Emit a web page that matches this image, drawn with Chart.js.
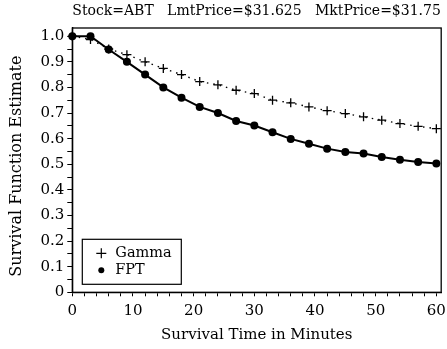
<!DOCTYPE html>
<html>
<head>
<meta charset="utf-8">
<script src="https://cdn.jsdelivr.net/npm/chart.js@4.4.1/dist/chart.umd.min.js"></script>
<style>
  html, body { margin: 0; padding: 0; background: #fff; }
  #wrap { width: 447px; height: 349px; }
</style>
</head>
<body>
<div id="wrap"><canvas id="surv" width="447" height="349"></canvas></div>
<script>
// survival estimates, sampled every 3 minutes
var minutes = [0, 3, 6, 9, 12, 15, 18, 21, 24, 27, 30, 33, 36, 39, 42, 45, 48, 51, 54, 57, 60];
var gamma = [1.0, 0.987, 0.95, 0.928, 0.90, 0.874, 0.85, 0.823, 0.81, 0.789, 0.776, 0.75, 0.74, 0.724, 0.709, 0.698, 0.685, 0.672, 0.659, 0.648, 0.639];
var fpt = [1.0, 1.0, 0.948, 0.90, 0.85, 0.80, 0.76, 0.724, 0.70, 0.669, 0.651, 0.625, 0.599, 0.58, 0.561, 0.548, 0.542, 0.528, 0.518, 0.509, 0.503];
var seriesNames = ['Gamma', 'FPT'];
var heading = 'Stock=ABT   LmtPrice=$31.625   MktPrice=$31.75';
var yTitle = 'Survival Function Estimate';
var xTitle = 'Survival Time in Minutes';

var serif = "'DejaVu Serif', 'Liberation Serif', serif";

function pts(ys){
  return minutes.map(function(m, i){ return {x: m, y: ys[i]}; });
}

// frame, heading, y title and boxed legend inside the plot
var extras = {
  id: 'extras',
  afterDraw: function(chart){
    var ctx = chart.ctx;
    var a = chart.chartArea;
    ctx.save();
    ctx.strokeStyle = '#000';
    ctx.lineWidth = 1.3;
    ctx.strokeRect(a.left, a.top, a.right - a.left, a.bottom - a.top);

    ctx.fillStyle = '#000';
    ctx.font = '14px ' + serif;
    ctx.textAlign = 'left';
    ctx.textBaseline = 'middle';
    ctx.fillText(heading, a.left, 11);

    // y axis title, a bit below the middle of the axis
    ctx.save();
    ctx.translate(17, (a.top + a.bottom) / 2 + 6);
    ctx.rotate(-Math.PI / 2);
    ctx.font = '16px ' + serif;
    ctx.textAlign = 'center';
    ctx.fillText(yTitle, 0, 0);
    ctx.restore();

    // legend
    var bx = a.left + 10, bw = 99, bh = 45, by = a.bottom - 8 - bh;
    ctx.fillStyle = '#fff';
    ctx.fillRect(bx, by, bw, bh);
    ctx.lineWidth = 1.2;
    ctx.strokeRect(bx, by, bw, bh);
    chart.data.datasets.forEach(function(ds, i){
      var cy = by + 14 + i * 17;
      ctx.fillStyle = '#000';
      ctx.strokeStyle = '#000';
      if (ds.pointStyle === 'circle') {
        ctx.beginPath();
        ctx.arc(bx + 19, cy, 3, 0, Math.PI * 2);
        ctx.fill();
      } else {
        Chart.helpers.drawPoint(ctx, {
          pointStyle: ds.pointStyle,
          radius: 5,
          borderWidth: ds.pointBorderWidth || 1
        }, bx + 19, cy);
      }
      ctx.font = '14.5px ' + serif;
      ctx.textAlign = 'left';
      ctx.textBaseline = 'middle';
      ctx.fillText(ds.label, bx + 33, cy);
    });
    ctx.restore();
  }
};

function noPad(scale){
  scale.paddingLeft = 0; scale.paddingRight = 0;
  scale.paddingTop = 0; scale.paddingBottom = 0;
}

new Chart(document.getElementById('surv'), {
  type: 'line',
  data: {
    datasets: [
      {
        label: seriesNames[0],
        data: pts(gamma),
        borderColor: '#000',
        backgroundColor: '#000',
        borderWidth: 1.4,
        borderDash: [1.5, 5],
        pointStyle: 'cross',
        pointRadius: 4.5,
        pointBorderWidth: 1.3,
        pointBorderColor: '#000',
        tension: 0,
        clip: false,
        order: 1
      },
      {
        label: seriesNames[1],
        data: pts(fpt),
        borderColor: '#000',
        backgroundColor: '#000',
        borderWidth: 2,
        pointStyle: 'circle',
        pointRadius: 4,
        pointBorderWidth: 0,
        pointBackgroundColor: '#000',
        tension: 0,
        clip: false,
        order: 0
      }
    ]
  },
  options: {
    responsive: false,
    animation: false,
    layout: { padding: { top: 28, right: 3.7, left: 0, bottom: 0 } },
    plugins: {
      legend: { display: false },
      tooltip: { enabled: false },
      title: { display: false }
    },
    scales: {
      x: {
        type: 'linear',
        min: 0,
        max: 60.8,
        afterFit: function(s){ s.height = 56.7; noPad(s); },
        grid: { drawOnChartArea: false, drawTicks: true, tickLength: 4, color: '#000', lineWidth: 1 },
        border: { display: true, color: '#000', width: 1.3 },
        ticks: {
          stepSize: 2,
          includeBounds: false,
          autoSkip: false,
          maxRotation: 0,
          padding: 6,
          color: '#000',
          font: { family: serif, size: 15 },
          callback: function(v){ return v % 10 === 0 ? String(v) : ''; }
        },
        title: {
          display: true,
          text: xTitle,
          color: '#000',
          font: { family: serif, size: 15 },
          padding: { top: 0, bottom: 5 }
        }
      },
      y: {
        type: 'linear',
        min: 0,
        max: 1.032,
        afterFit: function(s){ s.width = 72.3; noPad(s); },
        grid: { drawOnChartArea: false, drawTicks: true, tickLength: 5, color: '#000', lineWidth: 1 },
        border: { display: true, color: '#000', width: 1.3 },
        ticks: {
          stepSize: 0.05,
          includeBounds: false,
          autoSkip: false,
          padding: 3,
          color: '#000',
          font: { family: serif, size: 15 },
          callback: function(v){
            var k = Math.round(v * 100);
            if (k % 10 !== 0) return '';
            return k === 0 ? '0' : (k / 100).toFixed(1);
          }
        },
        title: { display: false }
      }
    }
  },
  plugins: [extras]
});
</script>
</body>
</html>
